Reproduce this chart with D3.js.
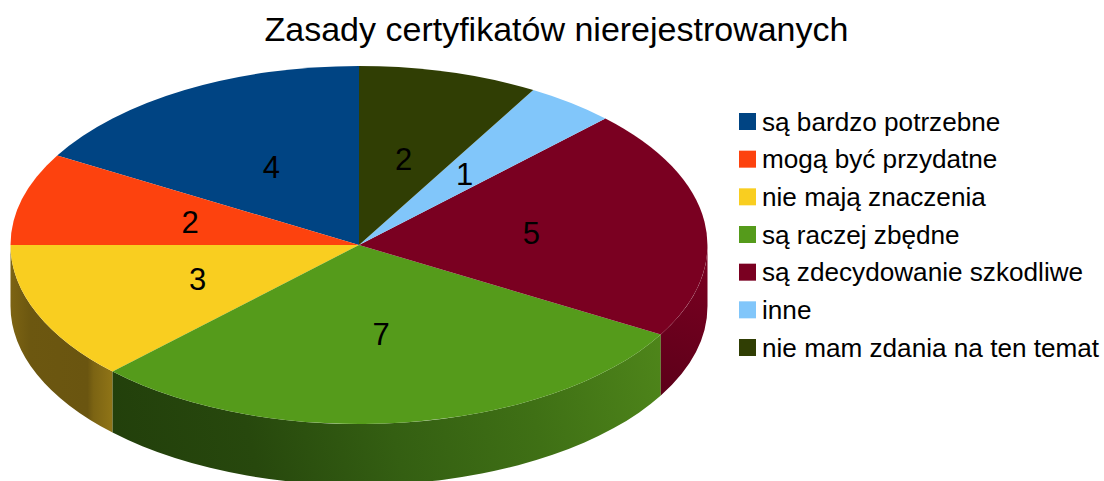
<!DOCTYPE html>
<html>
<head>
<meta charset="utf-8">
<script src="https://cdn.jsdelivr.net/npm/d3@7"></script>
<style>
  html, body { margin: 0; background: #fff; }
  text { font-family: "Liberation Sans", sans-serif; fill: #000; }
</style>
</head>
<body>
<div id="chart"></div>
<script>
//Chart data
const chartTitle = 'Zasady certyfikatów nierejestrowanych';
const categories = ['są bardzo potrzebne', 'mogą być przydatne', 'nie mają znaczenia', 'są raczej zbędne', 'są zdecydowanie szkodliwe', 'inne', 'nie mam zdania na ten temat'];
const values = [4, 2, 3, 7, 5, 1, 2];
const colors = ['#004483', '#fd420e', '#f9ce20', '#559b1b', '#7a0021', '#81c6fa', '#303e04'];

//Initial set up
const chartWidth = 1104;
const chartHeight = 481;
const cx = 359;
const cy = 245;
const rx = 348.5;
const ry = 179;
const depth = 61;

const svg = d3.select('#chart')
  .append('svg')
  .attr('width', chartWidth)
  .attr('height', chartHeight)
  .style('display', 'block');

//Slices run counter-clockwise from 12 o'clock
const slices = d3.pie().sort(null).startAngle(0).endAngle(-2 * Math.PI)(values);
const arc = d3.arc().innerRadius(0).outerRadius(1);
const px = a => cx + rx * Math.sin(a);
const py = a => cy - ry * Math.cos(a);

//Shading of the side wall, one entry per slice that shows one
const wallStops = {
  2: { x1: 10, y1: 0, x2: 112, y2: 0, stops: [[0, '#7d6413'], [0.2, '#6c5710'], [0.76, '#6a5510'], [0.82, '#7c6413'], [1, '#8f7417']] },
  3: { x1: 112, y1: 470, x2: 661, y2: 340, stops: [[0, '#223f0b'], [0.25, '#27480d'], [0.5, '#345f12'], [0.75, '#3f7015'], [1, '#4e851a']] },
  4: { x1: 661, y1: 395, x2: 707, y2: 260, stops: [[0, '#5c0019'], [1, '#7a0021']] }
};

const defs = svg.append('defs');
Object.keys(wallStops).forEach(i => {
  const g = wallStops[i];
  defs.append('linearGradient')
    .attr('id', 'wall' + i)
    .attr('gradientUnits', 'userSpaceOnUse')
    .attr('x1', g.x1).attr('y1', g.y1)
    .attr('x2', g.x2).attr('y2', g.y2)
    .selectAll('stop')
    .data(g.stops)
    .enter()
    .append('stop')
    .attr('offset', d => d[0])
    .attr('stop-color', d => d[1]);
});

//Side walls, only the front half of the ellipse is visible
const frontStart = -Math.PI / 2;
const frontEnd = -3 * Math.PI / 2;
const wallPath = d => {
  const a0 = Math.min(d.startAngle, frontStart);
  const a1 = Math.max(d.endAngle, frontEnd);
  return `M${px(a0)},${py(a0)}A${rx},${ry} 0 0 0 ${px(a1)},${py(a1)}`
    + `L${px(a1)},${py(a1) + depth}A${rx},${ry} 0 0 1 ${px(a0)},${py(a0) + depth}Z`;
};

svg.append('g')
  .selectAll('path')
  .data(slices.filter(d => d.endAngle < frontStart && d.startAngle > frontEnd))
  .enter()
  .append('path')
  .attr('d', wallPath)
  .attr('fill', d => `url(#wall${d.index})`);

//Top of the pie
svg.append('g')
  .attr('transform', `translate(${cx},${cy}) scale(${rx},${ry})`)
  .selectAll('path')
  .data(slices)
  .enter()
  .append('path')
  .attr('d', arc)
  .attr('fill', d => colors[d.index]);

//Value labels
svg.append('g')
  .selectAll('text')
  .data(slices)
  .enter()
  .append('text')
  .attr('x', d => cx + rx * arc.centroid(d)[0] - 0.5)
  .attr('y', d => cy + ry * arc.centroid(d)[1] + 11)
  .attr('text-anchor', 'middle')
  .style('font-size', '31px')
  .text(d => d.value);

//Title
svg.append('text')
  .attr('x', 556.5)
  .attr('y', 41)
  .attr('text-anchor', 'middle')
  .style('font-size', '34px')
  .text(chartTitle);

//Legend
const legendY = d3.scalePoint().domain(categories).range([121.5, 347.5]);
const legend = svg.append('g')
  .selectAll('g')
  .data(categories)
  .enter()
  .append('g')
  .attr('transform', d => `translate(739,${legendY(d)})`);

legend.append('rect')
  .attr('y', -8.5)
  .attr('width', 17)
  .attr('height', 17)
  .attr('fill', (d, i) => colors[i]);

legend.append('text')
  .attr('x', 23)
  .attr('y', 9)
  .style('font-size', '26.15px')
  .text(d => d);
</script>
</body>
</html>
